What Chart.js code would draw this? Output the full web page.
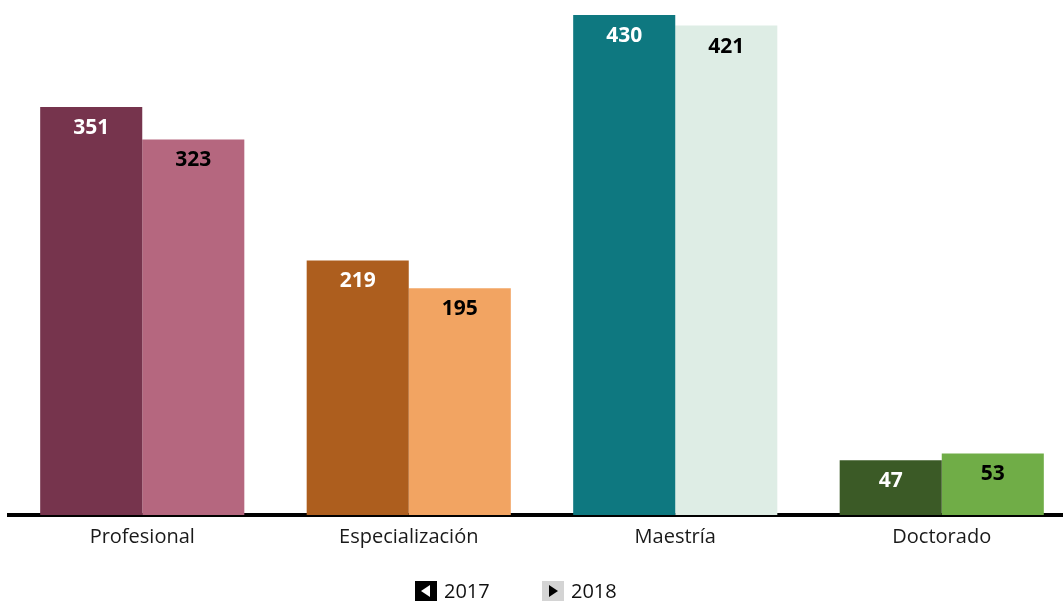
<!DOCTYPE html>
<html>
<head>
<meta charset="utf-8">
<script src="https://cdn.jsdelivr.net/npm/chart.js@4/dist/chart.umd.min.js"></script>
<style>
  html, body { margin: 0; padding: 0; background: #fff; overflow: hidden; }
  #wrap { position: relative; width: 1063px; height: 601px; overflow: hidden; }
  #grafico { position: absolute; left: 0; top: 0; }
</style>
</head>
<body>
<div id="wrap"><canvas id="grafico" width="1076" height="601"></canvas></div>
<script>
// Matriculados por nivel de formación
const niveles = ['Profesional', 'Especialización', 'Maestría', 'Doctorado'];
const anios = ['2017', '2018'];
const valores2017 = [351, 219, 430, 47];
const valores2018 = [323, 195, 421, 53];

const colores2017 = ['#76344d', '#ad5e1e', '#0e7880', '#3b5a26'];
const colores2018 = ['#b5677f', '#f2a462', '#deede5', '#70ad47'];

// Etiquetas de valor dentro de cada barra
const etiquetasValor = {
  id: 'etiquetasValor',
  afterDatasetsDraw(chart) {
    const ctx = chart.ctx;
    ctx.save();
    ctx.font = 'bold 21px "Open Sans"';
    ctx.textAlign = 'center';
    ctx.textBaseline = 'middle';
    chart.data.datasets.forEach((ds, i) => {
      const meta = chart.getDatasetMeta(i);
      meta.data.forEach((bar, j) => {
        ctx.fillStyle = i === 0 ? '#ffffff' : '#000000';
        ctx.fillText(ds.data[j], bar.x, bar.y + 21);
      });
    });
    ctx.restore();
  }
};

// Leyenda con flechas
const leyendaFlechas = {
  id: 'leyendaFlechas',
  afterDraw(chart) {
    const ctx = chart.ctx;
    const y = 591;
    const items = [
      { x: 415, fondo: '#000000', flecha: '#ffffff', izquierda: true },
      { x: 542, fondo: '#d4d4d4', flecha: '#000000', izquierda: false }
    ];
    ctx.save();
    ctx.font = '20px "Open Sans"';
    ctx.textBaseline = 'middle';
    ctx.textAlign = 'left';
    items.forEach((it, i) => {
      ctx.fillStyle = it.fondo;
      ctx.fillRect(it.x, y - 10, 22, 20);
      ctx.fillStyle = it.flecha;
      ctx.beginPath();
      if (it.izquierda) {
        ctx.moveTo(it.x + 6, y);
        ctx.lineTo(it.x + 15, y - 6);
        ctx.lineTo(it.x + 15, y + 6);
      } else {
        ctx.moveTo(it.x + 16, y);
        ctx.lineTo(it.x + 7, y - 6);
        ctx.lineTo(it.x + 7, y + 6);
      }
      ctx.closePath();
      ctx.fill();
      ctx.fillStyle = '#111111';
      ctx.fillText(chart.data.datasets[i].label, it.x + 29, y + 1);
    });
    ctx.restore();
  }
};

new Chart(document.getElementById('grafico'), {
  type: 'bar',
  data: {
    labels: niveles,
    datasets: [
      { label: anios[0], data: valores2017, backgroundColor: colores2017, borderWidth: 0 },
      { label: anios[1], data: valores2018, backgroundColor: colores2018, borderWidth: 0 }
    ]
  },
  options: {
    responsive: false,
    animation: false,
    layout: { padding: { left: 9, right: 1, top: 0, bottom: 50 } },
    datasets: {
      bar: { barPercentage: 1, categoryPercentage: 0.766 }
    },
    plugins: {
      legend: { display: false },
      tooltip: { enabled: false }
    },
    scales: {
      x: {
        grid: { display: false },
        border: { display: true, color: '#000000', width: 4 },
        ticks: { color: '#1a1a1a', font: { family: '"Open Sans"', size: 20 }, padding: 2 }
      },
      y: {
        display: false,
        min: 0,
        max: 443
      }
    }
  },
  plugins: [etiquetasValor, leyendaFlechas]
});
</script>
</body>
</html>
